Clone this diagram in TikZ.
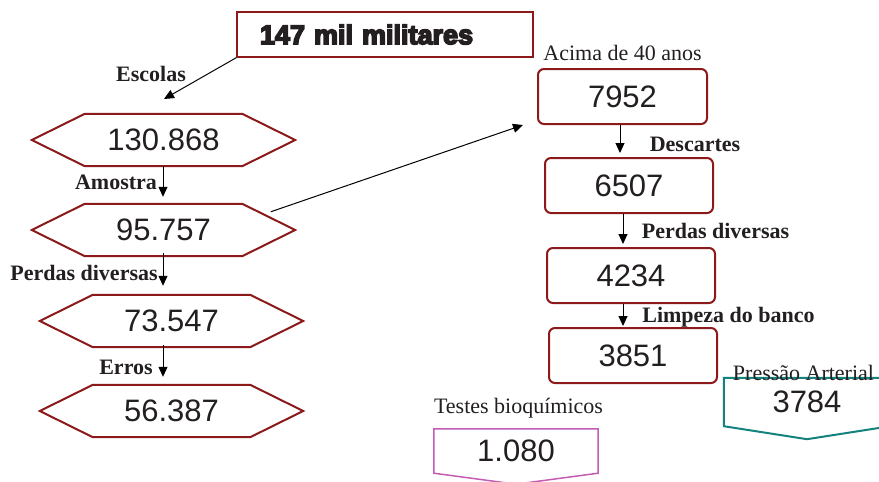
\documentclass[tikz,border=0pt]{standalone}
\usepackage{fontspec}
\setmainfont{Liberation Serif}
\newfontfamily\numfont{Liberation Sans}
\newfontfamily\heavyfont{Liberation Sans Bold}[FakeBold=6]
\usetikzlibrary{arrows.meta}
\definecolor{maroonc}{RGB}{140,26,26}
\definecolor{tealc}{RGB}{20,130,125}
\definecolor{pinkc}{RGB}{196,92,180}
\definecolor{txt}{RGB}{35,31,32}
\newcommand\drawhex[1]{\draw[hexline] (#1.west) -- ([xshift=53pt]#1.north west) -- ([xshift=-53pt]#1.north east) -- (#1.east) -- ([xshift=-53pt]#1.south east) -- ([xshift=53pt]#1.south west) -- cycle;}
\begin{document}
\begin{tikzpicture}[x=1pt,y=-1pt,
  numtext/.style={font=\numfont\fontsize{31}{31}\selectfont,text=txt},
  hexbox/.style={numtext,minimum width=263pt,minimum height=52pt,inner sep=0pt},
  hexline/.style={draw=maroonc,line width=2pt,line join=miter},
  rbox/.style={numtext,draw=maroonc,line width=2pt,rounded corners=6pt,minimum width=168pt,minimum height=55pt,inner sep=0pt},
  pbox/.style={numtext,minimum width=#1,minimum height=48pt,inner sep=0pt},
  lab/.style={font=\bfseries\fontsize{22}{22}\selectfont,text=txt,inner sep=0pt},
  rlab/.style={font=\fontsize{22}{22}\selectfont,text=txt,inner sep=0pt},
  arr/.style={-{Triangle[length=10pt,width=9pt]},line width=1pt,draw=black}]
\path[use as bounding box,clip] (0,0) rectangle (879,482);
\fill[white] (0,0) rectangle (879,482);

% top box
\node[draw=maroonc,line width=1.2pt,minimum height=45pt,text width=250pt,align=left,inner xsep=23pt,inner ysep=0pt,
  font=\heavyfont\fontsize{27}{27}\selectfont,text=txt] (r0) at (385,34.5) {147 mil militares};

% hexagons
\node[hexbox] (h1) at (163.5,140) {130.868};
\node[hexbox] (h2) at (163.5,230) {95.757};
\node[hexbox] (h3) at (171.5,321) {73.547};
\node[hexbox] (h4) at (171.5,411) {56.387};
\drawhex{h1}
\drawhex{h2}
\drawhex{h3}
\drawhex{h4}

% left labels
\node[lab] (l1) at (151,74) {Escolas};
\node[lab] (l2) at (116,182) {Amostra};
\node[lab] (l3) at (84,273) {Perdas diversas};
\node[lab] (l4) at (126,367) {Erros};

% left arrows
\coordinate (e1) at (164,99);
\draw[arr] (r0.south west) -- (e1);
\draw[arr] ([xshift=-0.5pt]h1.south) -- ([xshift=-0.5pt,yshift=7pt]h2.north);
\draw[arr] ([xshift=-0.5pt,yshift=3pt]h2.south) -- ([xshift=-8.5pt,yshift=9pt]h3.north);
\draw[arr] ([xshift=-8.5pt,yshift=2pt]h3.south) -- ([xshift=-8.5pt,yshift=8pt]h4.north);

% right boxes
\node[rbox,minimum width=169pt] (b1) at (622.5,96.5) {7952};
\node[rbox] (b2) at (629,185.5) {6507};
\node[rbox] (b3) at (631,275.5) {4234};
\node[rbox] (b4) at (633,355.5) {3851};

\node[rlab] (t1) at (622.5,53) {Acima de 40 anos};
\node[lab] (t2) at (695,144) {Descartes};
\node[lab] (t3) at (715.5,231) {Perdas diversas};
\node[lab] (t4) at (728.5,317) {Limpeza do banco};

\draw[arr] ([xshift=-24.5pt,yshift=-8pt]h2.north east) -- ([xshift=-14pt]b1.south west);
\draw[arr] ([xshift=-2.5pt]b1.south) -- ([xshift=-9pt,yshift=4pt]b2.north);
\draw[arr] ([xshift=-6pt]b2.south) -- ([xshift=-8pt,yshift=3pt]b3.north);
\draw[arr] ([xshift=-8pt]b3.south) -- ([xshift=-10pt,yshift=1pt]b4.north);

% bottom shapes
\node[pbox=166pt] (pa) at (807,402) {3784};
\draw[draw=tealc,line width=2pt,line join=miter] (pa.north west) -- (pa.north east) -- (pa.south east) -- ([yshift=-13pt]pa.south) -- (pa.south west) -- cycle;
\node[rlab] (t5) at (803.5,373) {Pressão Arterial};

\node[pbox=164pt] (tb) at (516,451) {1.080};
\draw[draw=pinkc,line width=1.5pt,line join=miter] ([yshift=-2pt]tb.north west) -- ([yshift=-2pt]tb.north east) -- ([yshift=2pt]tb.south east) -- ([yshift=-9pt]tb.south) -- ([yshift=2pt]tb.south west) -- cycle;
\node[rlab] (t6) at (518.5,408) {Testes bioquímicos};
\end{tikzpicture}
\end{document}
